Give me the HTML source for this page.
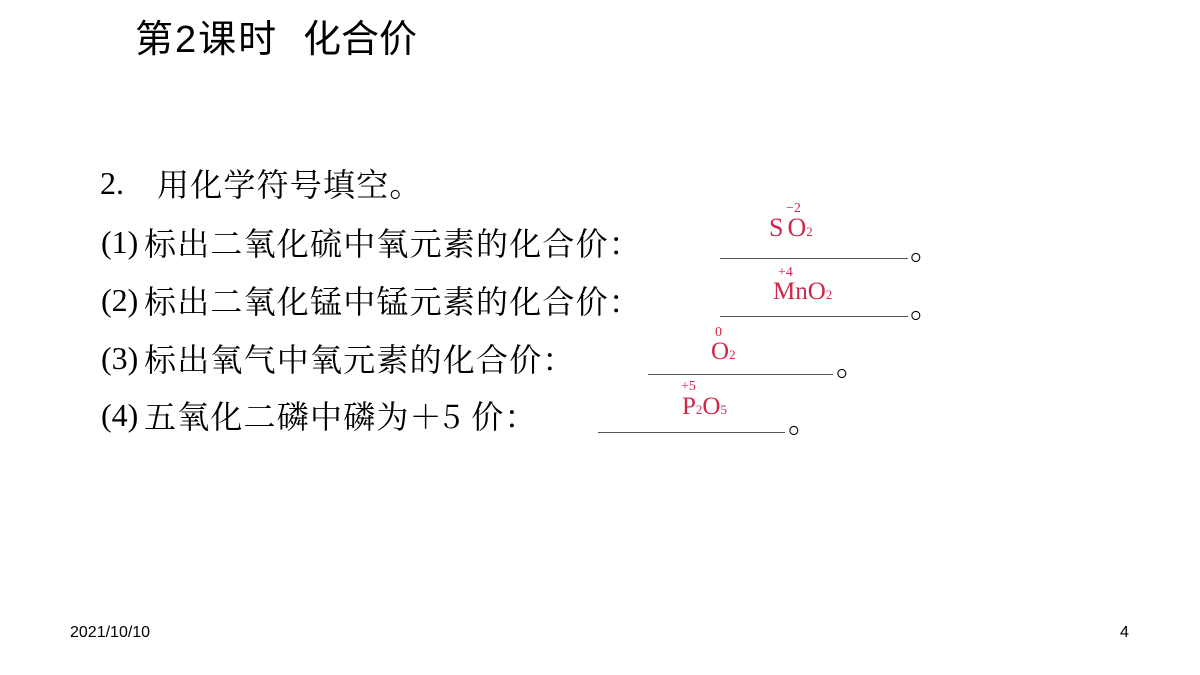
<!DOCTYPE html>
<html><head><meta charset="utf-8"><style>
body{margin:0;width:1200px;height:675px;background:#fff;position:relative;overflow:hidden}
.a{position:absolute;white-space:nowrap}
.t{font-family:"Liberation Sans","Noto Sans CJK SC",sans-serif;font-size:38px;color:#000;line-height:40px}
.n{font-family:"Liberation Serif",serif;font-size:32px;line-height:40px;color:#000}
.c{font-family:"Noto Serif CJK SC","Liberation Serif",serif;font-size:32px;line-height:40px;color:#000;letter-spacing:1.2px}
.u{position:absolute;height:1px;background:#555}
.r{font-family:"Liberation Serif",serif;color:#d0284a;line-height:1}
</style></head><body>
<div class="a t" style="left:135px;top:20px;letter-spacing:2px">第2课时</div>
<div class="a t" style="left:303px;top:20px">化合价</div>
<div class="a n" style="left:100px;top:163px">2.</div>
<div class="a c" style="left:157px;top:163px">用化学符号填空。</div>
<div class="a n" style="left:101px;top:222px">(1)</div>
<div class="a c" style="left:144px;top:222px">标出二氧化硫中氧元素的化合价：</div>
<div class="a n" style="left:101px;top:280px">(2)</div>
<div class="a c" style="left:144px;top:280px">标出二氧化锰中锰元素的化合价：</div>
<div class="a n" style="left:101px;top:338px">(3)</div>
<div class="a c" style="left:144px;top:338px">标出氧气中氧元素的化合价：</div>
<div class="a n" style="left:101px;top:395px">(4)</div>
<div class="a c" style="left:144px;top:395px">五氧化二磷中磷为＋5 价：</div>
<div class="u" style="left:720px;top:258px;width:188px"></div>
<div class="u" style="left:720px;top:316px;width:188px"></div>
<div class="u" style="left:648px;top:374px;width:185px"></div>
<div class="u" style="left:598px;top:432px;width:187px"></div>
<div class="a c" style="left:910px;top:226px">。</div>
<div class="a c" style="left:910px;top:284px">。</div>
<div class="a c" style="left:836px;top:342px">。</div>
<div class="a c" style="left:788px;top:399px">。</div>
<div class="a r" style="left:769px;top:215px;font-size:26px">S<span style="margin-left:4px">O</span><span style="font-size:13px">2</span></div>
<div class="a r" style="left:786px;top:202px;font-size:14px">−2</div>
<div class="a r" style="left:773px;top:279px;font-size:25px">MnO<span style="font-size:13px">2</span></div>
<div class="a r" style="left:778px;top:266px;font-size:14px">+4</div>
<div class="a r" style="left:711px;top:339px;font-size:25px">O<span style="font-size:13px">2</span></div>
<div class="a r" style="left:715px;top:326px;font-size:14px">0</div>
<div class="a r" style="left:682px;top:394px;font-size:25px">P<span style="font-size:13px">2</span>O<span style="font-size:13px">5</span></div>
<div class="a r" style="left:681px;top:380px;font-size:14px">+5</div>
<div class="a" style="left:70px;top:624px;font-family:'Liberation Sans',sans-serif;font-size:16px">2021/10/10</div>
<div class="a" style="left:1120px;top:624px;font-family:'Liberation Sans',sans-serif;font-size:16px">4</div>
</body></html>
